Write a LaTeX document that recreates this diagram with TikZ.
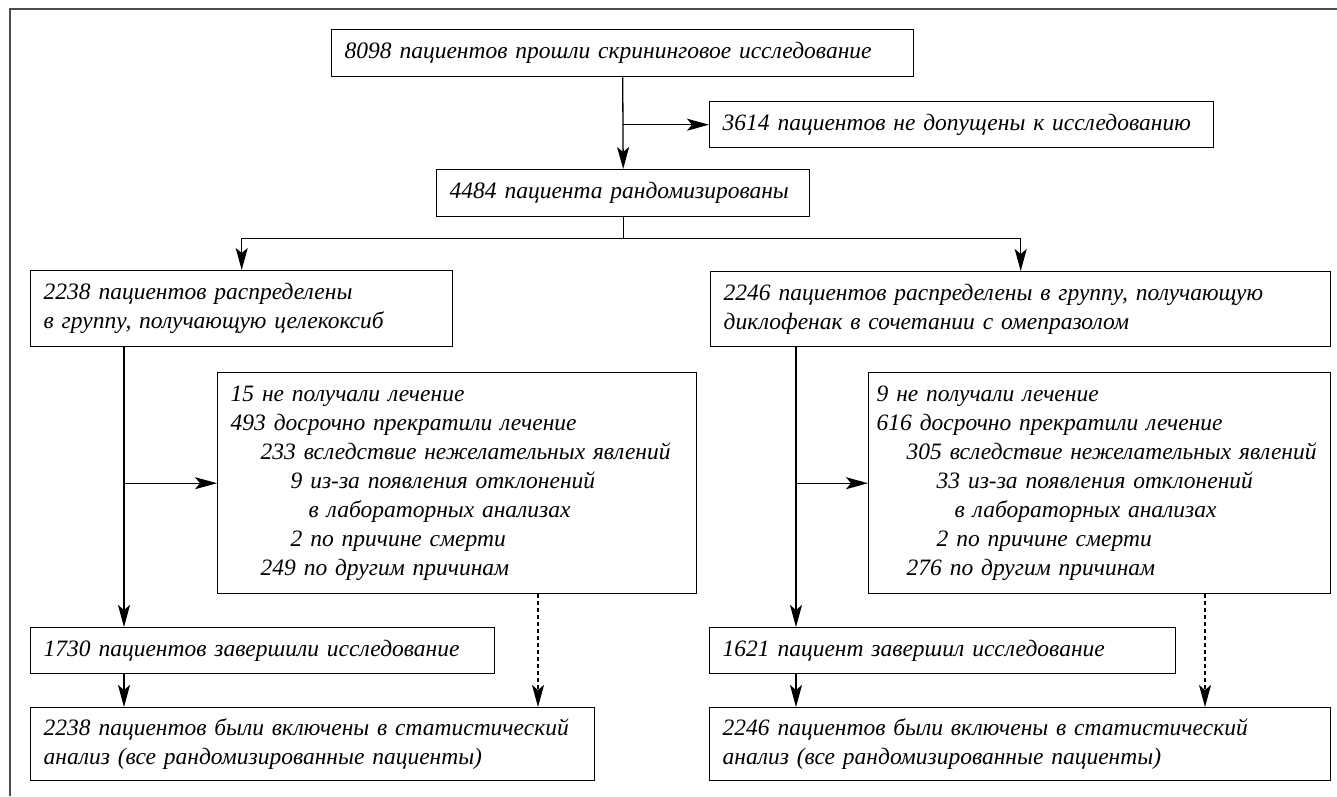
\documentclass[tikz,border=0pt]{standalone}
\usepackage{fontspec}
\setmainfont{Liberation Serif}
\usetikzlibrary{arrows.meta, positioning}

\begin{document}
\begin{tikzpicture}[
    x=1pt, y=-1pt,
    every node/.style={font=\fontsize{23.5}{29}\selectfont\itshape},
    box/.style={rectangle, draw, line width=1.4pt, anchor=north west, align=left, inner xsep=13pt, inner ysep=0pt},
    arrow/.style={-{Stealth[length=22pt, width=12pt, inset=5pt]}, line width=1.3pt},
    dasharrow/.style={arrow, dash pattern=on 4pt off 3pt}
]
\useasboundingbox (0,0) rectangle (1337,796);

% ============ FRAME ============
\draw[line width=2pt, black!70] (10,796) -- (10,9) -- (1337,9);

% ============ SCREENING ============
\node[box, text width=556pt, minimum height=47pt] (screen) at (331,29) {8098 пациентов прошли скрининговое исследование};
\node[box, text width=478pt, minimum height=46pt] (excl) at (709,101) {3614 пациентов не допущены к исследованию};
\node[box, text width=347pt, minimum height=47pt] (rand) at (436,169) {4484 пациента рандомизированы};

\draw[arrow] (screen.south) -- (rand.north);
\draw[arrow] (screen.south |- excl.west) -- (excl.west);

% ============ GROUPS ============
\node[box, text width=396pt, minimum height=76pt] (celx) at (30,270) {2238 пациентов распределены\\в группу, получающую целекоксиб};
\node[box, text width=594pt, minimum height=75pt] (dicl) at (710,271) {2246 пациентов распределены в группу, получающую\\диклофенак в сочетании с омепразолом};

\draw[arrow] (rand.south) -- ++(0,21) -| (celx.north);
\draw[arrow] (rand.south) -- ++(0,21) -| (dicl.north);

% ============ LEFT ARM ============
\node[box, text width=453pt, minimum height=221pt] (drop1) at (217,372) {%
15 не получали лечение\\
493 досрочно прекратили лечение\\
\hspace*{30pt}233 вследствие нежелательных явлений\\
\hspace*{60pt}9 из-за появления отклонений\\
\hspace*{78pt}в лабораторных анализах\\
\hspace*{60pt}2 по причине смерти\\
\hspace*{30pt}249 по другим причинам};
\node[box, text width=438pt, minimum height=46pt] (done1) at (30,627) {1730 пациентов завершили исследование};
\node[box, text width=538pt, minimum height=73pt] (ana1) at (30,707) {2238 пациентов были включены в статистический\\анализ (все рандомизированные пациенты)};

\coordinate (ltrunk) at (124,0);
\coordinate (ldash) at (538,0);
\draw[arrow] (celx.south -| ltrunk) -- (done1.north -| ltrunk);
\draw[arrow] (drop1.west -| ltrunk) -- (drop1.west);
\draw[arrow] (done1.south -| ltrunk) -- (ana1.north -| ltrunk);
\draw[dasharrow] (drop1.south -| ldash) -- (ana1.north -| ldash);

% ============ RIGHT ARM ============
\node[box, inner xsep=8pt, text width=446pt, minimum height=221pt] (drop2) at (868,372) {%
9 не получали лечение\\
616 досрочно прекратили лечение\\
\hspace*{30pt}305 вследствие нежелательных явлений\\
\hspace*{60pt}33 из-за появления отклонений\\
\hspace*{78pt}в лабораторных анализах\\
\hspace*{60pt}2 по причине смерти\\
\hspace*{30pt}276 по другим причинам};
\node[box, text width=440pt, minimum height=46pt] (done2) at (709,627) {1621 пациент завершил исследование};
\node[box, text width=595pt, minimum height=73pt] (ana2) at (709,707) {2246 пациентов были включены в статистический\\анализ (все рандомизированные пациенты)};

\coordinate (rtrunk) at (796,0);
\coordinate (rdash) at (1205,0);
\draw[arrow] (dicl.south -| rtrunk) -- (done2.north -| rtrunk);
\draw[arrow] (drop2.west -| rtrunk) -- (drop2.west);
\draw[arrow] (done2.south -| rtrunk) -- (ana2.north -| rtrunk);
\draw[dasharrow] (drop2.south -| rdash) -- (ana2.north -| rdash);

\end{tikzpicture}
\end{document}
